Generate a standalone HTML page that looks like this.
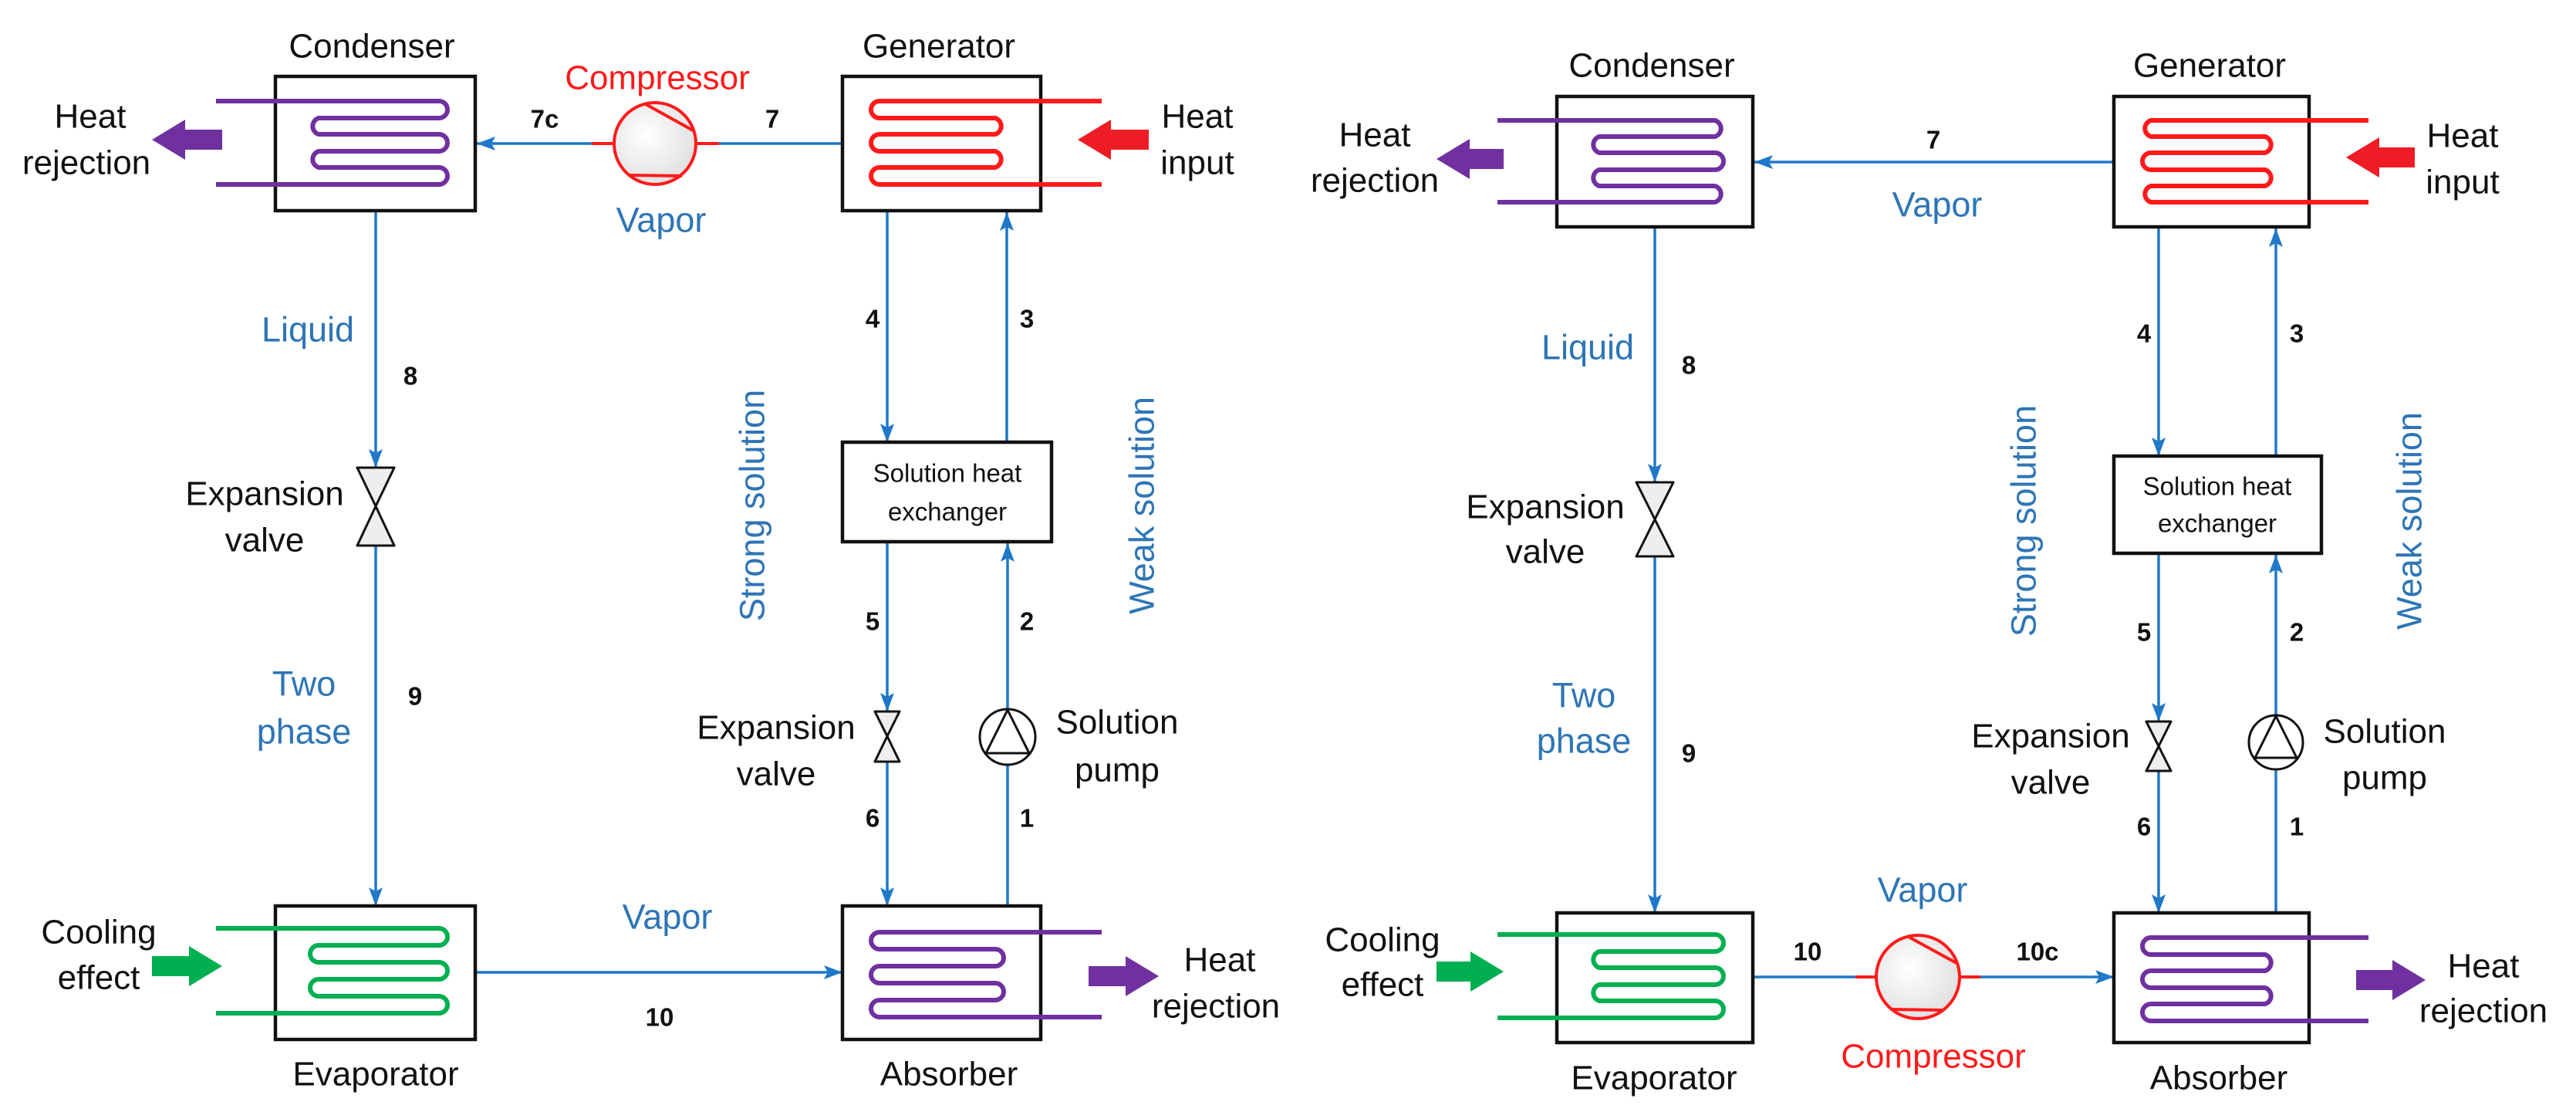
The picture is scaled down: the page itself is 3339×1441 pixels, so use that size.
<!DOCTYPE html>
<html><head><meta charset="utf-8"><style>
html,body{margin:0;padding:0;background:#fff}
svg{display:block}
text{font-family:"Liberation Sans",sans-serif}
.lb{font-size:44px;fill:#111;text-anchor:middle;dominant-baseline:central}
.bl{font-size:45px;fill:#2e75b6;text-anchor:middle;dominant-baseline:central}
.rd{font-size:44px;fill:#ff1a1a;text-anchor:middle;dominant-baseline:central}
.nm{font-size:33px;font-weight:bold;fill:#111;text-anchor:middle;dominant-baseline:central}
.sx{font-size:33px;fill:#111;text-anchor:middle;dominant-baseline:central}
.ln{stroke:#1f78c8;stroke-width:3.5;fill:none}
.bx{fill:#fff;stroke:#111;stroke-width:4.5}
.cp{fill:none;stroke-width:6;stroke-linejoin:round}
.vv{fill:#eee;stroke:#111;stroke-width:3;stroke-linejoin:round}
</style></head><body>
<svg width="3339" height="1441" viewBox="0 0 3339 1441" xmlns="http://www.w3.org/2000/svg">
<defs>
<marker id="a" markerUnits="userSpaceOnUse" markerWidth="26" markerHeight="20" refX="24" refY="9" orient="auto">
<path d="M0,0 L24,9 L0,18 L5,9 z" fill="#1f78c8"/></marker>
<radialGradient id="g" cx="0.4" cy="0.4" r="0.7"><stop offset="0" stop-color="#fff"/><stop offset="1" stop-color="#ddd"/></radialGradient>
</defs>

<!-- ============ LEFT DIAGRAM ============ -->
<line class="ln" x1="1092" y1="186" x2="618" y2="186" marker-end="url(#a)"/>
<line class="ln" x1="487" y1="273" x2="487" y2="606" marker-end="url(#a)"/>
<line class="ln" x1="487" y1="707" x2="487" y2="1174" marker-end="url(#a)"/>
<line class="ln" x1="1150" y1="273" x2="1150" y2="573" marker-end="url(#a)"/>
<line class="ln" x1="1305" y1="573" x2="1305" y2="275" marker-end="url(#a)"/>
<line class="ln" x1="1150" y1="702" x2="1150" y2="922" marker-end="url(#a)"/>
<line class="ln" x1="1150" y1="987" x2="1150" y2="1174" marker-end="url(#a)"/>
<line class="ln" x1="1306" y1="919" x2="1306" y2="704" marker-end="url(#a)"/>
<line class="ln" x1="1306" y1="1174" x2="1306" y2="991"/>
<line class="ln" x1="616" y1="1260" x2="1092" y2="1260" marker-end="url(#a)"/>

<rect class="bx" x="357" y="99" width="259" height="174"/>
<rect class="bx" x="1092" y="99" width="257" height="174"/>
<rect class="bx" x="357" y="1174" width="259" height="173"/>
<rect class="bx" x="1092" y="1174" width="257" height="173"/>
<rect class="bx" x="1092" y="573" width="271" height="129"/>

<path class="cp" stroke="#7030a0" d="M280 131 H569 A11 11 0 0 1 569 153 H413 A11 11 0 0 0 413 174 H569 A11 11 0 0 1 569 196 H413 A11 11 0 0 0 413 217 H569 A11 11 0 0 1 569 239 H280"/>
<path class="cp" stroke="#ff1a1a" d="M1428 131 H1140 A11 11 0 0 0 1140 153 H1290 A11 11 0 0 1 1290 174 H1140 A11 11 0 0 0 1140 196 H1290 A11 11 0 0 1 1290 217 H1140 A11 11 0 0 0 1140 239 H1428"/>
<path class="cp" stroke="#00b050" d="M280 1203 H569 A11 11 0 0 1 569 1225 H413 A11 11 0 0 0 413 1247 H569 A11 11 0 0 1 569 1269 H413 A11 11 0 0 0 413 1291 H569 A11 11 0 0 1 569 1313 H280"/>
<path class="cp" stroke="#7030a0" d="M1428 1208 H1140 A11 11 0 0 0 1140 1230 H1290 A11 11 0 0 1 1290 1252 H1140 A11 11 0 0 0 1140 1274 H1290 A11 11 0 0 1 1290 1296 H1140 A11 11 0 0 0 1140 1318 H1428"/>

<line x1="767" y1="186" x2="932" y2="186" stroke="#ff1a1a" stroke-width="4"/>
<circle cx="849" cy="186" r="53" fill="url(#g)" stroke="#ff1a1a" stroke-width="4"/>
<line x1="835" y1="134" x2="900" y2="170" stroke="#ff1a1a" stroke-width="4"/>
<line x1="815" y1="227" x2="884" y2="228" stroke="#ff1a1a" stroke-width="4"/>

<path class="vv" d="M463 606 H511 L487 656 Z M487 656 L511 707 H463 Z"/>
<path class="vv" d="M1134 922 H1166 L1150 954 Z M1150 954 L1166 987 H1134 Z"/>
<circle cx="1306" cy="955" r="36" fill="#fff" stroke="#111" stroke-width="3"/>
<path d="M1306 920 L1334 976 L1278 976 Z" fill="none" stroke="#111" stroke-width="3"/>
<line x1="1276" y1="976" x2="1336" y2="976" stroke="#111" stroke-width="3"/>

<polygon fill="#7030a0" points="197,181 240,155 240,168 288,168 288,194 240,194 240,207"/>
<polygon fill="#ee1c24" points="1397,181 1440,155 1440,168 1489,168 1489,194 1440,194 1440,207"/>
<polygon fill="#00b050" points="288,1252 245,1226 245,1239 197,1239 197,1265 245,1265 245,1278"/>
<polygon fill="#7030a0" points="1502,1265 1459,1239 1459,1252 1411,1252 1411,1278 1459,1278 1459,1291"/>

<text class="lb" x="482" y="60">Condenser</text>
<text class="lb" x="1217" y="60">Generator</text>
<text class="rd" x="852" y="101">Compressor</text>
<text class="bl" x="857" y="285">Vapor</text>
<text class="nm" x="706" y="154">7c</text>
<text class="nm" x="1001" y="154">7</text>
<text class="lb" x="117" y="151">Heat</text>
<text class="lb" x="112" y="211">rejection</text>
<text class="lb" x="1552" y="151">Heat</text>
<text class="lb" x="1552" y="211">input</text>
<text class="bl" x="399" y="427">Liquid</text>
<text class="nm" x="532" y="487">8</text>
<text class="lb" x="343" y="640">Expansion</text>
<text class="lb" x="343" y="700">valve</text>
<text class="nm" x="1131" y="413">4</text>
<text class="nm" x="1331" y="413">3</text>
<text class="bl" transform="translate(975 655) rotate(-90)" x="0" y="0">Strong solution</text>
<text class="bl" transform="translate(1480 655) rotate(-90)" x="0" y="0">Weak solution</text>
<text class="sx" x="1228" y="613">Solution heat</text>
<text class="sx" x="1228" y="663">exchanger</text>
<text class="nm" x="1131" y="805">5</text>
<text class="nm" x="1331" y="805">2</text>
<text class="bl" x="394" y="886">Two</text>
<text class="bl" x="394" y="948">phase</text>
<text class="nm" x="538" y="902">9</text>
<text class="lb" x="1006" y="943">Expansion</text>
<text class="lb" x="1006" y="1003">valve</text>
<text class="lb" x="1448" y="936">Solution</text>
<text class="lb" x="1448" y="998">pump</text>
<text class="nm" x="1131" y="1060">6</text>
<text class="nm" x="1331" y="1060">1</text>
<text class="bl" x="865" y="1188">Vapor</text>
<text class="nm" x="855" y="1318">10</text>
<text class="lb" x="128" y="1208">Cooling</text>
<text class="lb" x="128" y="1267">effect</text>
<text class="lb" x="1581" y="1244">Heat</text>
<text class="lb" x="1576" y="1304">rejection</text>
<text class="lb" x="487" y="1392">Evaporator</text>
<text class="lb" x="1230" y="1392">Absorber</text>

<!-- ============ RIGHT DIAGRAM ============ -->
<line class="ln" x1="2740" y1="210" x2="2274" y2="210" marker-end="url(#a)"/>
<line class="ln" x1="2145" y1="294" x2="2145" y2="625" marker-end="url(#a)"/>
<line class="ln" x1="2145" y1="721" x2="2145" y2="1183" marker-end="url(#a)"/>
<line class="ln" x1="2798" y1="294" x2="2798" y2="591" marker-end="url(#a)"/>
<line class="ln" x1="2950" y1="591" x2="2950" y2="296" marker-end="url(#a)"/>
<line class="ln" x1="2798" y1="717" x2="2798" y2="935" marker-end="url(#a)"/>
<line class="ln" x1="2798" y1="999" x2="2798" y2="1183" marker-end="url(#a)"/>
<line class="ln" x1="2950" y1="927" x2="2950" y2="719" marker-end="url(#a)"/>
<line class="ln" x1="2950" y1="1183" x2="2950" y2="997"/>
<line class="ln" x1="2272" y1="1266" x2="2432" y2="1266"/>
<line class="ln" x1="2540" y1="1266" x2="2740" y2="1266" marker-end="url(#a)"/>

<rect class="bx" x="2018" y="125" width="254" height="169"/>
<rect class="bx" x="2740" y="125" width="253" height="169"/>
<rect class="bx" x="2018" y="1183" width="254" height="168"/>
<rect class="bx" x="2740" y="1183" width="253" height="168"/>
<rect class="bx" x="2740" y="591" width="269" height="126"/>

<path class="cp" stroke="#7030a0" d="M1941 156 H2223 A11 11 0 0 1 2223 177 H2073 A11 11 0 0 0 2073 198 H2223 A11 11 0 0 1 2223 220 H2073 A11 11 0 0 0 2073 241 H2223 A11 11 0 0 1 2223 262 H1941"/>
<path class="cp" stroke="#ff1a1a" d="M3070 156 H2788 A11 11 0 0 0 2788 177 H2936 A11 11 0 0 1 2936 198 H2788 A11 11 0 0 0 2788 220 H2936 A11 11 0 0 1 2936 241 H2788 A11 11 0 0 0 2788 262 H3070"/>
<path class="cp" stroke="#00b050" d="M1941 1211 H2223 A11 11 0 0 1 2223 1233 H2073 A11 11 0 0 0 2073 1254 H2223 A11 11 0 0 1 2223 1276 H2073 A11 11 0 0 0 2073 1297 H2223 A11 11 0 0 1 2223 1319 H1941"/>
<path class="cp" stroke="#7030a0" d="M3070 1215 H2788 A11 11 0 0 0 2788 1237 H2936 A11 11 0 0 1 2936 1258 H2788 A11 11 0 0 0 2788 1280 H2936 A11 11 0 0 1 2936 1301 H2788 A11 11 0 0 0 2788 1323 H3070"/>

<line x1="2405" y1="1266" x2="2567" y2="1266" stroke="#ff1a1a" stroke-width="4"/>
<circle cx="2486" cy="1266" r="54" fill="url(#g)" stroke="#ff1a1a" stroke-width="4"/>
<line x1="2472" y1="1213" x2="2536" y2="1248" stroke="#ff1a1a" stroke-width="4"/>
<line x1="2452" y1="1308" x2="2520" y2="1309" stroke="#ff1a1a" stroke-width="4"/>

<path class="vv" d="M2121 625 H2169 L2145 673 Z M2145 673 L2169 721 H2121 Z"/>
<path class="vv" d="M2782 935 H2814 L2798 967 Z M2798 967 L2814 999 H2782 Z"/>
<circle cx="2950" cy="962" r="35" fill="#fff" stroke="#111" stroke-width="3"/>
<path d="M2950 928 L2977 982 L2923 982 Z" fill="none" stroke="#111" stroke-width="3"/>
<line x1="2920" y1="982" x2="2980" y2="982" stroke="#111" stroke-width="3"/>

<polygon fill="#7030a0" points="1862,206 1905,180 1905,193 1949,193 1949,219 1905,219 1905,232"/>
<polygon fill="#ee1c24" points="3041,204 3084,178 3084,191 3130,191 3130,217 3084,217 3084,230"/>
<polygon fill="#00b050" points="1949,1259 1906,1233 1906,1246 1862,1246 1862,1272 1906,1272 1906,1285"/>
<polygon fill="#7030a0" points="3144,1270 3101,1244 3101,1257 3054,1257 3054,1283 3101,1283 3101,1296"/>

<text class="lb" x="2141" y="85">Condenser</text>
<text class="lb" x="2864" y="85">Generator</text>
<text class="lb" x="1782" y="175">Heat</text>
<text class="lb" x="1782" y="234">rejection</text>
<text class="lb" x="3192" y="176">Heat</text>
<text class="lb" x="3192" y="236">input</text>
<text class="nm" x="2506" y="181">7</text>
<text class="bl" x="2511" y="265">Vapor</text>
<text class="bl" x="2058" y="450">Liquid</text>
<text class="nm" x="2189" y="473">8</text>
<text class="nm" x="2779" y="432">4</text>
<text class="nm" x="2977" y="432">3</text>
<text class="bl" transform="translate(2623 675) rotate(-90)" x="0" y="0">Strong solution</text>
<text class="bl" transform="translate(3123 675) rotate(-90)" x="0" y="0">Weak solution</text>
<text class="lb" x="2003" y="657">Expansion</text>
<text class="lb" x="2003" y="715">valve</text>
<text class="sx" x="2874" y="630">Solution heat</text>
<text class="sx" x="2874" y="678">exchanger</text>
<text class="nm" x="2779" y="819">5</text>
<text class="nm" x="2977" y="819">2</text>
<text class="bl" x="2053" y="901">Two</text>
<text class="bl" x="2053" y="960">phase</text>
<text class="nm" x="2189" y="976">9</text>
<text class="lb" x="2658" y="954">Expansion</text>
<text class="lb" x="2658" y="1014">valve</text>
<text class="lb" x="3091" y="948">Solution</text>
<text class="lb" x="3091" y="1008">pump</text>
<text class="nm" x="2779" y="1071">6</text>
<text class="nm" x="2977" y="1071">1</text>
<text class="bl" x="2492" y="1153">Vapor</text>
<text class="nm" x="2343" y="1233">10</text>
<text class="nm" x="2641" y="1233">10c</text>
<text class="rd" x="2506" y="1369">Compressor</text>
<text class="lb" x="1792" y="1218">Cooling</text>
<text class="lb" x="1792" y="1276">effect</text>
<text class="lb" x="3219" y="1252">Heat</text>
<text class="lb" x="3219" y="1310">rejection</text>
<text class="lb" x="2144" y="1397">Evaporator</text>
<text class="lb" x="2876" y="1397">Absorber</text>
</svg>
</body></html>
